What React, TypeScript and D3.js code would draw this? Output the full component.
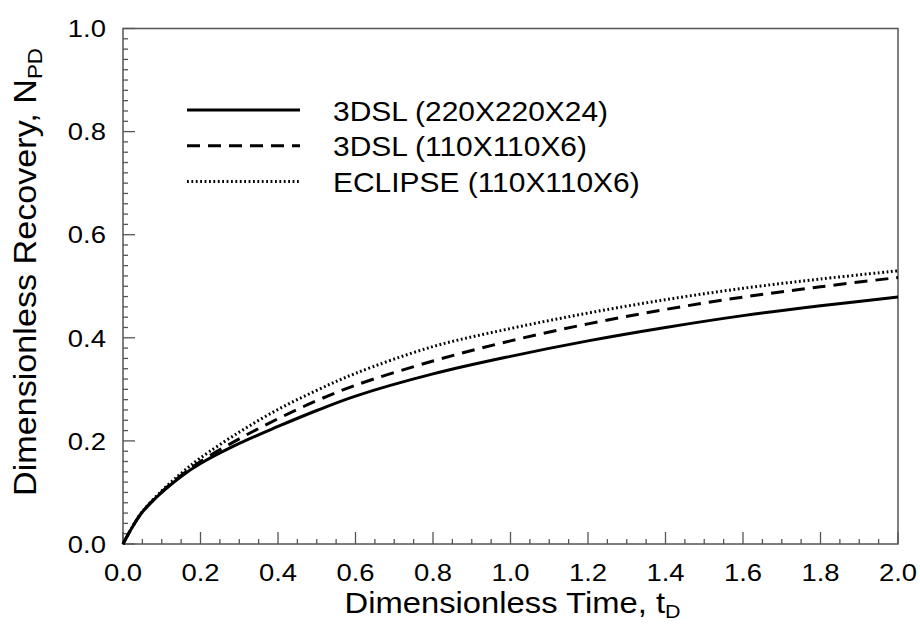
import React from "react";
import * as d3 from "d3";

const tValues = [0, 0.025, 0.05, 0.1, 0.15, 0.2, 0.3, 0.4, 0.5, 0.6, 0.8, 1.0, 1.2, 1.4, 1.6, 1.8, 2.0];
const fine220 = [0, 0.034, 0.062, 0.1, 0.131, 0.156, 0.195, 0.228, 0.259, 0.287, 0.33, 0.364, 0.394, 0.42, 0.443, 0.462, 0.479];
const coarse110 = [0, 0.034, 0.062, 0.101, 0.133, 0.16, 0.204, 0.243, 0.278, 0.308, 0.355, 0.394, 0.427, 0.455, 0.479, 0.499, 0.517];
const eclipse110 = [0, 0.034, 0.063, 0.103, 0.137, 0.167, 0.217, 0.261, 0.298, 0.331, 0.383, 0.418, 0.448, 0.474, 0.496, 0.514, 0.53];

const seriesNames = ["3DSL (220X220X24)", "3DSL (110X110X6)", "ECLIPSE (110X110X6)"];
const xTickLabels = ["0.0", "0.2", "0.4", "0.6", "0.8", "1.0", "1.2", "1.4", "1.6", "1.8", "2.0"];
const yTickLabels = ["0.0", "0.2", "0.4", "0.6", "0.8", "1.0"];

const W = 920;
const H = 625;
const L = 123, R = 898, T = 28.5, B = 544;
const FONT = "'Liberation Sans', Arial, sans-serif";

export default function App() {
  const x = d3.scaleLinear().domain([0, 2]).range([L, R]);
  const y = d3.scaleLinear().domain([0, 1]).range([B, T]);
  const line = d3
    .line<number>()
    .x((_, i) => x(tValues[i]))
    .y((d) => y(d))
    .curve(d3.curveCatmullRom.alpha(0.5));

  const series = [
    { name: seriesNames[0], vals: fine220, dash: undefined as string | undefined, w: 3 },
    { name: seriesNames[1], vals: coarse110, dash: "13,8", w: 3 },
    { name: seriesNames[2], vals: eclipse110, dash: "1.8,2.6", w: 3 },
  ];

  const xMinor = d3.range(0, 41).map((i) => i * 0.05);
  const yMinor = d3.range(0, 51).map((i) => i * 0.02);
  const axisColor = "#555";

  return (
    <svg width={W} height={H} style={{ position: "absolute", left: 0, top: 0, background: "#fff" }}>
      <rect x={0} y={0} width={W} height={H} fill="#fff" />
      {xMinor.map((v, i) => (
        <line key={"xm" + i} x1={x(v)} x2={x(v)} y1={B} y2={B - (i % 4 === 0 ? 12 : 5)} stroke={axisColor} strokeWidth={1.3} />
      ))}
      {yMinor.map((v, i) => (
        <line key={"ym" + i} x1={L} x2={L + (i % 10 === 0 ? 12 : 5)} y1={y(v)} y2={y(v)} stroke={axisColor} strokeWidth={1.3} />
      ))}
      <rect x={L} y={T} width={R - L} height={B - T} fill="none" stroke={axisColor} strokeWidth={1.5} />
      {xTickLabels.map((lab, i) => (
        <text key={"xl" + i} transform={`translate(${x(i * 0.2)},581) scale(1.12,1)`} textAnchor="middle" fontFamily={FONT} fontSize={24.5} fill="#000">
          {lab}
        </text>
      ))}
      {yTickLabels.map((lab, i) => (
        <text key={"yl" + i} transform={`translate(106,${y(i * 0.2) + 8.7}) scale(1.12,1)`} textAnchor="end" fontFamily={FONT} fontSize={24.5} fill="#000">
          {lab}
        </text>
      ))}
      <text transform={`translate(${(L + R) / 2 + 2},613) scale(1.13,1)`} textAnchor="middle" fontFamily={FONT} fontSize={29} fill="#000">
        Dimensionless Time, t<tspan fontSize={19} dy={5}>D</tspan>
      </text>
      <text transform={`translate(36,272) rotate(-90) scale(1.12,1)`} textAnchor="middle" fontFamily={FONT} fontSize={30.5} fill="#000">
        Dimensionless Recovery, N<tspan fontSize={20} dy={6}>PD</tspan>
      </text>
      {series.map((s, i) => (
        <path key={"s" + i} d={line(s.vals) || ""} fill="none" stroke="#000" strokeWidth={s.w} strokeDasharray={s.dash} />
      ))}
      {series.map((s, i) => {
        const ly = 110 + i * 35.8;
        return (
          <g key={"lg" + i}>
            <line x1={187} x2={300} y1={ly} y2={ly} stroke="#000" strokeWidth={s.w} strokeDasharray={s.dash} />
            <text transform={`translate(333,${ly + 10.5}) scale(1.05,1)`} fontFamily={FONT} fontSize={28.5} fill="#000">
              {s.name}
            </text>
          </g>
        );
      })}
    </svg>
  );
}
